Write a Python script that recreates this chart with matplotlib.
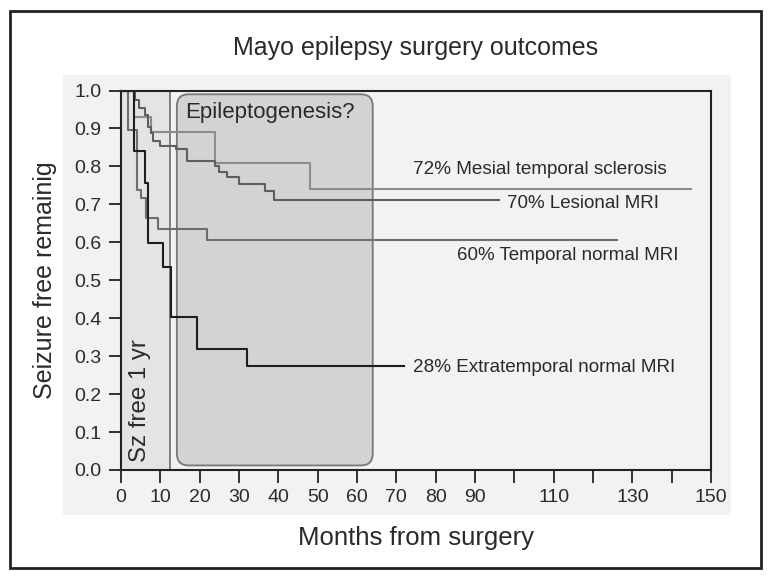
import numpy as np
import matplotlib
matplotlib.use("Agg")
import matplotlib.pyplot as plt
from matplotlib.patches import Rectangle, FancyBboxPatch

plt.rcParams['font.family'] = ['Liberation Sans', 'DejaVu Sans']

# Kaplan-Meier style step data (months, fraction seizure free)
mesial_t = [0, 3.4, 7.6, 24, 48, 145]
mesial_s = [1.0, 0.93, 0.89, 0.81, 0.74, 0.74]

lesional_t = [0, 3.6, 4.7, 6.0, 6.8, 7.5, 8.1, 9.8, 14.1, 16.7, 24, 24.9, 27, 30, 36.7, 39, 96]
lesional_s = [1.0, 0.976, 0.955, 0.936, 0.905, 0.888, 0.866, 0.855, 0.845, 0.815,
              0.80, 0.786, 0.772, 0.754, 0.734, 0.712, 0.712]

temporal_t = [0, 1.9, 4.0, 5.1, 6.4, 9.5, 21.9, 126]
temporal_s = [1.0, 0.896, 0.738, 0.717, 0.664, 0.635, 0.606, 0.606]

extra_t = [0, 3.4, 6.0, 6.8, 10.7, 12.8, 19.3, 32, 72]
extra_s = [1.0, 0.84, 0.755, 0.598, 0.536, 0.404, 0.318, 0.274, 0.274]

labels = ['72% Mesial temporal sclerosis', '70% Lesional MRI',
          '60% Temporal normal MRI', '28% Extratemporal normal MRI']

x_ticks = list(range(0, 151, 10))
x_ticklabels = [str(v) if v not in (100, 120, 140) else '' for v in x_ticks]
y_ticks = np.round(np.arange(0, 1.01, 0.1), 1)

fig = plt.figure(figsize=(7.71, 5.79), dpi=100)
W, H = 771.0, 579.0

def fig_rect(x0, y0, x1, y1, **kw):
    # pixel box (top-left origin) -> figure fraction rectangle, kept behind the axes
    r = Rectangle((x0 / W, 1 - y1 / H), (x1 - x0) / W, (y1 - y0) / H,
                  transform=fig.transFigure, zorder=-10, **kw)
    fig.patches.append(r)

# outer frame and grey panel
fig_rect(10, 11, 761, 568, fill=False, edgecolor='#222222', linewidth=2.0)
fig_rect(63, 75, 731, 515, facecolor='#f2f2f4', edgecolor='none')

ax = fig.add_axes([121 / W, 1 - 470 / H, 590 / W, 379.5 / H])
ax.set_facecolor('#f2f2f4')
ax.set_xlim(0, 150)
ax.set_ylim(0, 1)

# shaded regions
ax.add_patch(Rectangle((0, 0), 12.5, 1.0, facecolor='#e3e4e6', edgecolor='#777777',
                       linewidth=1.3, zorder=1))
ax.add_patch(FancyBboxPatch((14.2, 0.012), 64 - 14.2, 0.978,
                            boxstyle='round,pad=0,rounding_size=3',
                            mutation_aspect=0.0105,
                            facecolor='#d2d3d5', edgecolor='#777777', linewidth=1.3, zorder=1))

ax.text(16.3, 0.942, 'Epileptogenesis?', fontsize=16, color='#2a2a2a', va='center', ha='left', zorder=3)
ax.text(4.8, 0.02, 'Sz free 1 yr', fontsize=17.3, color='#2a2a2a', rotation=90,
        va='bottom', ha='center', zorder=3)

ax.step(mesial_t, mesial_s, where='post', color='#8c8c8c', lw=1.5, zorder=2)
ax.step(lesional_t, lesional_s, where='post', color='#5f5f5f', lw=1.5, zorder=2)
ax.step(temporal_t, temporal_s, where='post', color='#6e6e6e', lw=1.5, zorder=2)
ax.step(extra_t, extra_s, where='post', color='#1e1e1e', lw=1.5, zorder=2)

# curve labels
ax.text(74.2, 0.791, labels[0], fontsize=13.6, color='#2a2a2a', va='center', ha='left')
ax.text(98.1, 0.701, labels[1], fontsize=13.5, color='#2a2a2a', va='center', ha='left')
ax.text(85.4, 0.564, labels[2], fontsize=13.5, color='#2a2a2a', va='center', ha='left')
ax.text(74.2, 0.269, labels[3], fontsize=13.6, color='#2a2a2a', va='center', ha='left')

ax.set_xticks(x_ticks)
ax.set_xticklabels(x_ticklabels)
ax.set_yticks(y_ticks)
ax.set_yticklabels([f'{v:.1f}' for v in y_ticks])
ax.tick_params(direction='out', length=9, width=1.3, color='#222222',
               labelsize=14, labelcolor='#2a2a2a', pad=5)
for s in ax.spines.values():
    s.set_color('#222222')
    s.set_linewidth(1.5)

fig.text(416 / W, 1 - 48 / H, 'Mayo epilepsy surgery outcomes', fontsize=18,
         color='#2a2a2a', ha='center', va='center')
fig.text(416 / W, 1 - 538 / H, 'Months from surgery', fontsize=18.5,
         color='#2a2a2a', ha='center', va='center')
fig.text(45 / W, 1 - 280 / H, 'Seizure free remainig', fontsize=18,
         color='#2a2a2a', ha='center', va='center', rotation=90)

fig.savefig('out.png', dpi=100, facecolor='white')
